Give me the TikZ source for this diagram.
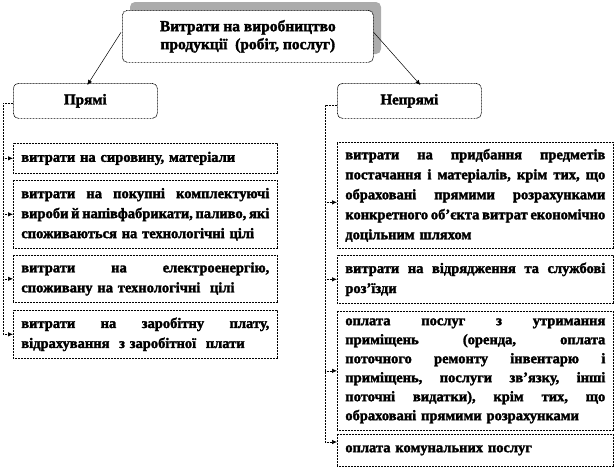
\documentclass[tikz,border=0pt]{standalone}
\usepackage{fontspec}
\setmainfont{Liberation Serif}
\newfontfamily\fatfont{Liberation Serif}[FakeBold=2]
\usetikzlibrary{arrows.meta,calc}
\newcommand\sk{\hskip 0.25em plus 1fil minus 0.17em\relax}
\newcommand\jl[1]{\hbox to 248pt{#1}}
\newcommand\jr[1]{\hbox to 260pt{#1}}
\newcommand\lline[1]{\hbox{#1}}
\newcommand\blines[1]{\vbox{#1}}
\newcommand\boxfont{\fatfont\bfseries\fontsize{14.5}{20}\selectfont}
\tikzset{
  dotline/.style={line width=0.7pt, dash pattern=on 0.9pt off 0.6pt},
  tipA/.style={-{Latex[length=5pt,width=4.5pt]}},
  headbox/.style={draw, dotline, rounded corners=5pt, fill=white, align=center,
    font=\fatfont\bfseries\fontsize{15.5}{18}\selectfont, inner sep=0pt},
  catbox/.style={draw, dotline, rounded corners=5pt, fill=white, align=center,
    font=\fatfont\bfseries\fontsize{15}{18}\selectfont, inner sep=0pt,
    minimum width=144pt, minimum height=35pt, anchor=north west},
  lbox/.style={draw, dotline, anchor=north west, font=\boxfont,
    inner xsep=8pt, inner ysep=0pt, text width=248pt},
  rbox/.style={draw, dotline, anchor=north west, font=\boxfont,
    inner xsep=8pt, inner ysep=0pt, text width=260pt},
}
\begin{document}
\begin{tikzpicture}[x=1pt,y=-1pt]
\useasboundingbox (0,0) rectangle (616,469);
% top box with shadow
\fill[gray!65, rounded corners=5pt] (130,2) rectangle (381,54);
\node[headbox, minimum width=251pt, minimum height=52pt, anchor=north west] (top) at (122,10)
  {Витрати на виробництво\\продукції\ \ (робіт,\ послуг)};
% categories
\node[catbox] (pr) at (13,83) {Прямі};
\node[catbox] (np) at (337,83) {Непрямі};
% left boxes
\node[lbox, minimum height=30pt] (L1) at (13,143)
  {\blines{\lline{витрати на сировину, матеріали}}};
\node[lbox, minimum height=68pt] (L2) at (13,180)
  {\blines{\jl{витрати\sk на\sk покупні\sk комплектуючі}\jl{вироби\sk й\sk напівфабрикати,\sk паливо,\sk які}\lline{споживаються на технологічні цілі}}};
\node[lbox, minimum height=47pt] (L3) at (13,255)
  {\blines{\jl{витрати\sk на\sk електроенергію,}\lline{споживану на технологічні\ \ цілі}}};
\node[lbox, minimum height=48pt] (L4) at (13,310)
  {\blines{\jl{витрати\sk на\sk заробітну\sk плату,}\lline{відрахування\ \ з заробітної\ \ плати}}};
% right boxes
\node[rbox, minimum height=106pt] (R1) at (337,142)
  {\blines{\jr{витрати\sk на\sk придбання\sk предметів}\jr{постачання\sk і\sk матеріалів,\sk крім\sk тих,\sk що}\jr{обраховані\sk прямими\sk розрахунками}\jr{конкретного\sk об’єкта\sk витрат\sk економічно}\lline{доцільним шляхом}}};
\node[rbox, minimum height=48pt] (R2) at (337,255)
  {\blines{\jr{витрати\sk на\sk відрядження\sk та\sk службові}\lline{роз’їзди}}};
\node[rbox, minimum height=119pt] (R3) at (337,311)
  {\blines{\baselineskip=19pt\jr{оплата\sk послуг\sk з\sk утримання}\jr{приміщень\sk (оренда,\sk оплата}\jr{поточного\sk ремонту\sk інвентарю\sk і}\jr{приміщень,\sk послуги\sk зв’язку,\sk інші}\jr{поточні\sk видатки),\sk крім\sk тих,\sk що}\lline{обраховані прямими розрахунками}}};
\node[rbox, minimum height=32pt] (R4) at (337,434)
  {\blines{\lline{оплата комунальних послуг}}};
% arrows from top
\draw[line width=0.5pt, tipA] ($(top.west)+(-1,-4)$) -- ($(pr.north)+(2,2)$);
\draw[line width=0.5pt, tipA] ($(top.east)+(0,-4)$) -- ($(np.north)+(11,2)$);
% left spine
\coordinate (ls) at (3,0);
\draw[dotline] ($(pr.west)+(0,2)$) -| (ls |- L4.west);
\foreach \b in {L1,L2,L3,L4}
  \draw[dotline, tipA] (ls |- \b.west) -- (\b.west);
% right spine
\coordinate (rs) at (325,0);
\coordinate (r1a) at ($(R1.west)+(0,7)$);
\coordinate (r4a) at ($(R4.north west)+(0,8)$);
\draw[dotline] ($(np.west)+(0,4)$) -| (rs |- r4a);
\foreach \b in {r1a,R2.west,R3.west,r4a}
  \draw[dotline, tipA] (rs |- \b) -- (\b);
\end{tikzpicture}
\end{document}
